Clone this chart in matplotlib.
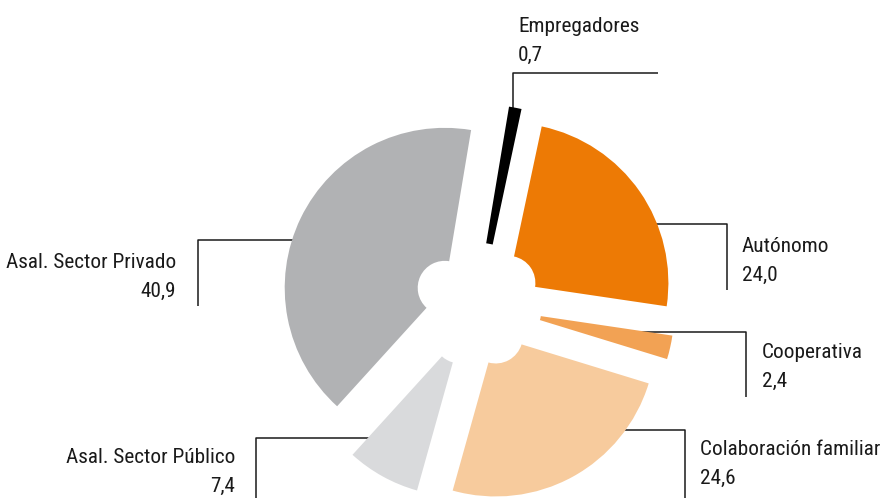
#!/usr/bin/env python3
"""Exploded ring chart: distribution by employment category."""

import matplotlib
matplotlib.use("Agg")
import matplotlib.pyplot as plt
from matplotlib import font_manager as fm

# Data
categories = ["Empregadores", "Autónomo", "Cooperativa", "Colaboración familiar",
              "Asal. Sector Público", "Asal. Sector Privado"]
values = [0.7, 24.0, 2.4, 24.6, 7.4, 40.9]
value_labels = ["0,7", "24,0", "2,4", "24,6", "7,4", "40,9"]
colors = ["#000000", "#ED7A05", "#F2A254", "#F7CB9D", "#D9DADC", "#B1B2B4"]

# Layout, in pixels of the 883x498 canvas (y measured downwards)
W, H = 883, 498
CENTER = (478, 304)
RADIUS = 160
HOLE = 27
EXPLODE = 37
START_ANGLE = 80.5
LINE_GAP = 29

# text anchor (first baseline) and alignment per category
label_pos = [(518, 32, "left"), (742, 252, "left"), (762, 358, "left"),
             (700, 455, "left"), (235, 463, "right"), (176, 268, "right")]
# leader line paths per category
leaders = [
    [(513, 120), (513, 73), (658, 73)],
    [(620, 224), (727, 224), (727, 290)],
    [(640, 332), (746, 332), (746, 397)],
    [(600, 430), (685, 430), (685, 498)],
    [(385, 438), (256, 438), (256, 498)],
    [(300, 240), (198, 240), (198, 306)],
]


def pick_font():
    """Prefer a narrow face, like the condensed type of the original."""
    fonts = fm.fontManager.ttflist
    names = {f.name for f in fonts}
    for name in ("Liberation Sans Narrow", "Roboto Condensed", "Open Sans Condensed"):
        if name in names:
            return dict(family=name)
    if any(f.name == "DejaVu Sans" and "ondensed" in str(f.stretch) + f.fname for f in fonts):
        return dict(family="DejaVu Sans", stretch="condensed")
    return dict(family="Roboto" if "Roboto" in names else "DejaVu Sans")


def flip(y):
    return H - y


def main():
    fig = plt.figure(figsize=(W / 100, H / 100), dpi=100)
    ax = fig.add_axes([0, 0, 1, 1])
    ax.set_xlim(0, W)
    ax.set_ylim(0, H)
    ax.set_aspect("equal")
    ax.axis("off")

    wedges, _ = ax.pie(values, colors=colors, startangle=START_ANGLE, counterclock=False,
                       explode=[EXPLODE] * len(values), radius=RADIUS,
                       center=(CENTER[0], flip(CENTER[1])),
                       wedgeprops=dict(width=RADIUS - HOLE, linewidth=0))
    for w in wedges:
        w.set_zorder(3)
    # the tiny slice gets an outline so it stays visible
    wedges[0].set_edgecolor("#000000")
    wedges[0].set_linewidth(4)

    font = pick_font()
    # size the text so the longest label has the width it has in the original
    renderer = fig.canvas.get_renderer()
    probe = ax.text(0, 0, categories[3], fontsize=16, **font)
    fsize = min(17.0, 16 * 180 / probe.get_window_extent(renderer).width)
    probe.remove()

    for name, val, (x, y, ha), path in zip(categories, value_labels, label_pos, leaders):
        xs = [p[0] for p in path]
        ys = [flip(p[1]) for p in path]
        ax.plot(xs, ys, color="#1a1a1a", lw=1.1, zorder=1, solid_capstyle="butt")
        ax.text(x, flip(y), name, ha=ha, va="baseline", fontsize=fsize,
                color="#1a1a1a", **font)
        ax.text(x, flip(y + LINE_GAP), val, ha=ha, va="baseline", fontsize=fsize,
                color="#1a1a1a", **font)

    ax.set_xlim(0, W)
    ax.set_ylim(0, H)
    fig.savefig("out.png", dpi=100, facecolor="white")
    plt.close(fig)


if __name__ == "__main__":
    main()
